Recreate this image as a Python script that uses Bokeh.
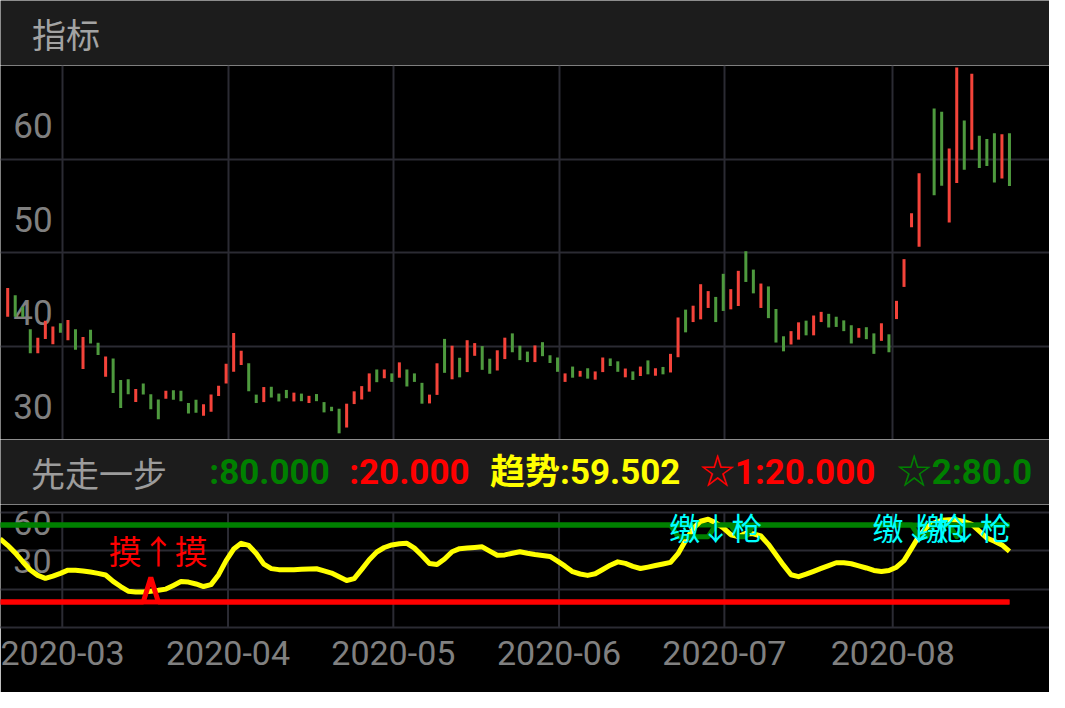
import math
from bokeh.plotting import figure
from bokeh.layouts import column
from bokeh.models import Range1d, FixedTicker, ColumnDataSource, Grid
from bokeh.embed import file_html
from bokeh.resources import INLINE
from bokeh.core.properties import value

# ---------------- data ----------------
opens = [43.13, 45.43, 44.20, 41.80, 39.22, 40.76, 40.20, 42.43, 40.62, 41.80,
         37.55, 41.73, 40.34, 36.72, 38.67, 36.37, 36.44, 34.00, 35.98, 34.84,
         34.28, 34.36, 35.27, 35.22, 33.90, 34.25, 32.53, 32.96, 34.65, 35.98,
         37.24, 37.96, 38.15, 34.80, 34.00, 35.64, 34.91, 35.30, 34.07, 34.91,
         33.90, 34.86, 34.00, 33.50, 33.29, 31.28, 33.79, 34.28, 35.12, 37.49,
         36.55, 37.07, 36.61, 37.49, 37.07, 36.06, 33.86, 34.77, 40.76, 36.44,
         38.74, 37.21, 38.95, 39.99, 38.64, 37.38, 38.60, 41.35, 40.03, 39.40,
         38.28, 40.41, 39.01, 38.77, 36.16, 37.80, 36.72, 37.62, 36.40, 37.21,
         38.67, 38.36, 36.65, 37.28, 36.79, 38.46, 36.82, 37.76, 37.17, 38.80,
         43.89, 42.56, 42.85, 44.07, 45.25, 47.72, 43.92, 44.28, 50.13, 48.17,
         44.07, 46.37, 43.96, 41.04, 40.16, 40.68, 42.71, 41.14, 42.56, 43.44,
         43.13, 42.74, 42.22, 40.89, 42.01, 41.35, 40.55, 41.25, 42.88, 46.32,
         52.69, 50.61, None, 65.40, 65.06, 53.22, 57.44, 64.12, 60.99, 62.48,
         62.14, 62.76, 57.92, 62.76]
closes = [46.19, 43.13, 43.11, 39.22, 40.89, 42.71, 42.08, 41.42, 42.77, 39.61,
          40.97, 40.27, 39.05, 38.88, 34.98, 33.37, 34.84, 35.40, 34.80, 33.24,
          32.16, 35.22, 34.25, 34.10, 32.77, 32.85, 33.76, 34.80, 35.74, 38.11,
          41.38, 39.50, 35.15, 33.90, 35.61, 34.49, 34.07, 34.42, 35.01, 34.10,
          34.67, 34.10, 32.90, 33.03, 30.66, 33.83, 35.15, 35.71, 37.07, 36.13,
          37.49, 36.16, 38.25, 35.67, 36.16, 33.83, 34.80, 38.15, 37.13, 40.03,
          36.65, 40.62, 40.31, 37.45, 37.03, 39.54, 40.89, 39.33, 38.49, 38.28,
          40.06, 38.91, 38.18, 37.24, 37.07, 36.61, 37.34, 36.51, 37.28, 38.77,
          37.86, 37.24, 37.59, 36.37, 37.80, 36.97, 37.62, 36.97, 39.16, 43.05,
          41.46, 44.31, 46.61, 45.87, 42.56, 43.75, 46.08, 48.04, 46.85, 45.63,
          46.68, 42.98, 40.37, 39.43, 41.59, 42.53, 41.14, 43.26, 43.65, 41.98,
          42.04, 41.59, 40.27, 41.91, 40.73, 39.16, 42.43, 39.33, 44.83, 49.29,
          54.20, 58.48, None, 56.11, 57.15, 61.12, 69.79, 58.86, 69.13, 59.03,
          59.24, 57.50, 62.66, 57.12]

# indicator series start one bar before the first visible candle (index -1)
trend = [69.2, 64.2, 58.3, 51.4, 44.9, 40.7, 38.4, 40.2, 42.3, 44.8,
         44.8, 44.2, 43.3, 42.3, 41.0, 36.0, 32.0, 28.4, 27.7, 27.8,
         28.4, 29.1, 30.0, 32.9, 35.9, 35.5, 34.0, 32.0, 33.5, 41.3,
         52.3, 61.3, 65.8, 64.1, 57.8, 49.5, 46.0, 45.2, 45.2, 45.2,
         45.5, 45.8, 45.9, 44.2, 42.5, 39.6, 36.7, 38.2, 45.4, 53.0,
         59.0, 62.5, 64.5, 65.4, 65.8, 62.0, 56.2, 50.0, 49.2, 53.5,
         59.2, 61.6, 62.1, 62.5, 63.0, 59.7, 56.5, 56.7, 58.0, 59.2,
         58.0, 57.0, 56.3, 55.5, 51.9, 47.9, 43.6, 41.8, 40.7, 42.0,
         45.3, 48.7, 51.3, 50.1, 47.8, 46.1, 47.2, 48.4, 49.6, 50.9,
         57.7, 68.0, 77.3, 83.0, 84.6, 81.8, 77.8, 72.5, 71.1, 73.5,
         73.2, 71.5, 65.0, 56.9, 48.7, 41.2, 39.7, 41.7, 43.9, 46.2,
         48.4, 50.6, 50.6, 49.8, 48.2, 46.5, 44.6, 43.8, 44.5, 47.1,
         52.3, 61.8, 71.6, 78.3, 81.8, 83.8, 84.1, 84.1, 82.7, 80.5,
         75.3, 69.9, 67.4, 64.5, 59.502]
upper_level = [80.0] * 135
lower_level = [20.0] * 135
star1 = [20.0] * 20 + [39.0] + [20.0] * 114           # spike at bar 19
star2 = ([80.0] * 90 + [71.0] * 5 + [80.0] * 3 + [71.0] * 2 + [80.0] * 22
         + [71.0] * 2 + [80.0] * 3 + [71.0] + [80.0] * 7)

price_ticks = [30, 40, 50, 60]
price_grid = [40, 50, 60]
ind_ticks = [30, 60]
ind_grid = [30, 60, 90]
x_ticks = [7.25, 29.25, 51.2, 73.2, 95.15, 117.5]
x_labels = ["2020-03", "2020-04", "2020-05", "2020-06", "2020-07", "2020-08"]

buy_text_x, buy_text_y, buy_text = [20], [60.3], ["摸↑摸"]
sell_text_x, sell_text_y = [94, 121, 127], [79.0, 79.0, 79.0]
sell_text = ["缴↓枪", "缴↓枪", "缴↓枪"]

# ---------------- style ----------------
W = 1049
H_HEAD1, H_PRICE, H_HEAD2, H_IND, H_AXIS = 65, 374, 65, 123, 65
SX = W / 1065.0
SY = 692 / 708.0
HEAD_BG = "#1c1c1c"
GRID = "#2b2b33"
CANDLE_UP = "#f4433a"
CANDLE_DN = "#4e9a3e"
LABEL_GRAY = "#808080"
FONT_NUM = "Roboto, 'Noto Sans CJK SC', sans-serif"
FONT_CJK = "'Noto Sans CJK SC', sans-serif"

xr = Range1d(-7.3 / 7.647, (1065 - 7.3) / 7.647)


def base(height, x_range, y_range, bg="#000000", **kw):
    p = figure(width=W, height=height, x_range=x_range, y_range=y_range,
               output_backend="svg", toolbar_location=None,
               min_border_left=0, min_border_right=0, min_border_top=0,
               min_border_bottom=0, **kw)
    p.background_fill_color = bg
    p.border_fill_color = bg
    p.outline_line_color = None
    return p


# header 1
h1 = base(H_HEAD1, Range1d(0, 1065), Range1d(67, 0), bg=HEAD_BG,
          x_axis_type=None, y_axis_type=None)
h1.text(x=[32], y=[34], text=["指标"], text_font=value(FONT_CJK),
        text_font_size="34px", text_color="#a3a3a3",
        text_baseline="middle", text_align="left")

# price panel
pp = base(H_PRICE, xr, Range1d(30, 70), x_axis_type=None, y_axis_type=None)
pp.add_layout(Grid(dimension=0, ticker=FixedTicker(ticks=x_ticks),
                   grid_line_color=GRID, grid_line_width=2))
pp.add_layout(Grid(dimension=1, ticker=FixedTicker(ticks=price_grid),
                   grid_line_color=GRID, grid_line_width=2))
pp.text(x=[xr.start] * len(price_ticks), y=price_ticks,
        text=[str(t) for t in price_ticks], x_offset=13 * SX, y_offset=-34 * SY,
        text_font=value(FONT_NUM), text_font_size="35px", text_color=LABEL_GRAY,
        text_baseline="middle", text_align="left")

idx = list(range(len(opens)))
tops, bots, cols = [], [], []
for o, c in zip(opens, closes):
    if o is None:
        tops.append(float("nan")); bots.append(float("nan")); cols.append(CANDLE_UP)
    else:
        tops.append(max(o, c)); bots.append(min(o, c))
        cols.append(CANDLE_UP if c >= o else CANDLE_DN)
csrc = ColumnDataSource(dict(x=idx, top=tops, bottom=bots, color=cols))
pp.vbar(x="x", top="top", bottom="bottom", width=0.4, fill_color="color",
        line_color=None, source=csrc)

# header 2
h2 = base(H_HEAD2, Range1d(0, 1065), Range1d(66, 0), bg=HEAD_BG,
          x_axis_type=None, y_axis_type=None)
h2.text(x=[31], y=[33], text=["先走一步"], text_font=value(FONT_CJK),
        text_font_size="34px", text_color="#9c9c9c",
        text_baseline="middle", text_align="left")
head_items = [
    (212, ":%.3f" % upper_level[-1], "#008000"),
    (354, ":%.3f" % lower_level[-1], "#ff0000"),
    (497, "趋势:%.3f" % trend[-1], "#ffff00"),
    (710, "☆1:%.3f" % star1[-1], "#ff0000"),
    (910, "☆2:%.1f" % star2[-1], "#008000"),   # shown truncated at the edge
]
h2.text(x=[a[0] for a in head_items], y=[33] * len(head_items),
        text=[a[1] for a in head_items], text_color=[a[2] for a in head_items],
        text_font=value(FONT_NUM), text_font_size="35px", text_font_style="bold",
        text_baseline="middle", text_align="left")

# indicator panel
pi = base(H_IND + H_AXIS, xr, Range1d(0, 96.1), y_axis_type=None)
pi.min_border_bottom = H_AXIS
ax = pi.xaxis[0]
ax.ticker = FixedTicker(ticks=x_ticks)
ax.major_label_overrides = {t: l for t, l in zip(x_ticks, x_labels)}
ax.major_tick_line_color = None
ax.minor_tick_line_color = None
ax.major_tick_out = 0
ax.axis_line_color = GRID
ax.axis_line_width = 2
ax.major_label_standoff = 13
ax.major_label_text_font = FONT_NUM
ax.major_label_text_font_size = "34px"
ax.major_label_text_color = LABEL_GRAY
pi.xgrid.visible = False
pi.segment(x0=x_ticks, y0=[0] * len(x_ticks), x1=x_ticks,
           y1=[max(ind_grid)] * len(x_ticks), line_color=GRID, line_width=2)
pi.add_layout(Grid(dimension=1, ticker=FixedTicker(ticks=ind_grid),
                   grid_line_color=GRID, grid_line_width=2))
pi.text(x=[xr.start] * len(ind_ticks), y=ind_ticks,
        text=[str(t) for t in ind_ticks], x_offset=13 * SX, y_offset=-28,
        text_font=value(FONT_NUM), text_font_size="34px", text_color=LABEL_GRAY,
        text_baseline="middle", text_align="left")

ix = list(range(-1, len(trend) - 1))
pi.line(ix, upper_level, line_color="#008000", line_width=5)
pi.line(ix, lower_level, line_color="#ff0000", line_width=5)
pi.line(ix, trend, line_color="#ffff00", line_width=5, line_join="round")
pi.line(ix, star1, line_color="#ff0000", line_width=5)
pi.line(ix, star2, line_color="#008000", line_width=5, line_join="round")

pi.text(x=buy_text_x, y=buy_text_y, text=buy_text, text_color="#ff0000",
        text_font=value(FONT_CJK), text_font_size="33px",
        text_baseline="middle", text_align="center")
pi.text(x=sell_text_x, y=sell_text_y, text=sell_text, text_color="#00ffff",
        text_font=value(FONT_CJK), text_font_size="31px",
        text_baseline="middle", text_align="center")

layout = column(h1, pp, h2, pi, spacing=0)
open("out.html", "w").write(file_html(layout, INLINE))
